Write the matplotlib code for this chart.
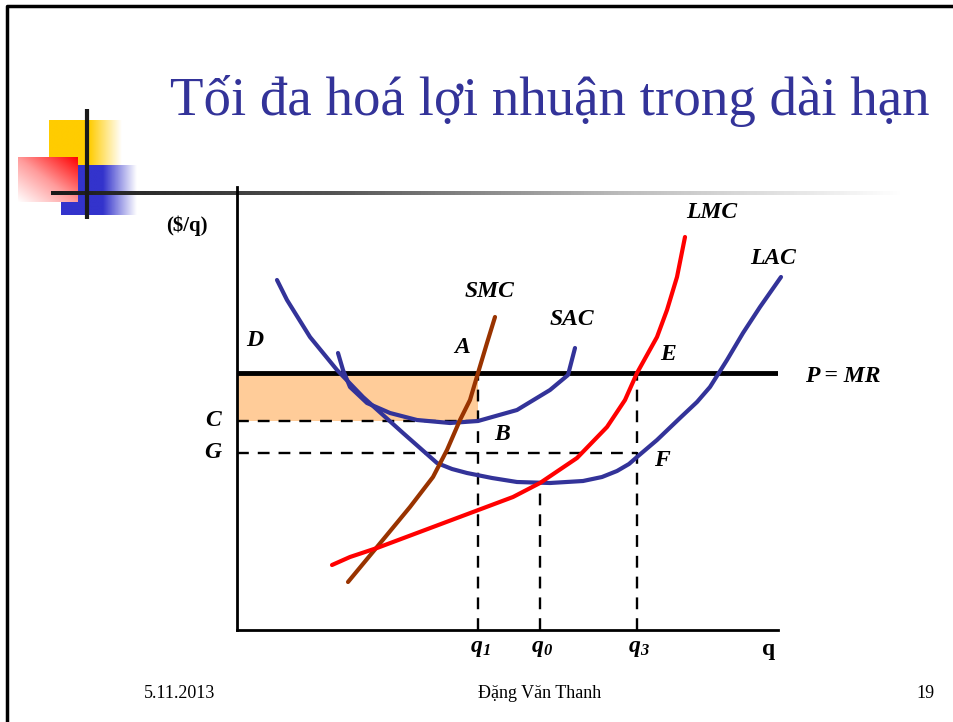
#!/usr/bin/env python3
import numpy as np
import matplotlib
matplotlib.use('Agg')
import matplotlib.pyplot as plt
from matplotlib.colors import LinearSegmentedColormap

# chart data (units: q along x, $/q along y, origin at the axes corner)
lac_q = [40, 50, 73, 100, 126, 166, 200, 215, 230, 255, 280, 313, 346, 365, 380, 392, 400, 420, 443, 460, 473, 490, 506, 523, 544]
lac_p = [350, 330, 293, 260, 233, 197, 167, 161, 157, 152, 148, 147, 149, 153, 159, 166, 173, 190, 212, 228, 243, 270, 297, 323, 353]

sac_q = [101, 106, 113, 130, 153, 180, 213, 241, 280, 313, 331, 338]
sac_p = [277, 260, 243, 227, 217, 210, 207, 209, 220, 240, 255, 282]

smc_q = [111, 140, 173, 196, 210, 223, 233, 241, 250, 258]
smc_p = [48, 83, 123, 153, 180, 210, 230, 257, 287, 313]

lmc_q = [95, 113, 140, 180, 236, 276, 303, 340, 370, 388, 400, 420, 430, 440, 448]
lmc_p = [65, 73, 82, 97, 118, 133, 147, 172, 203, 230, 257, 293, 320, 353, 393]

price = 257      # P = MR
c_level = 209    # C
g_level = 177    # G
q1, q0, q3 = 241, 303, 400

SERIF = 'Liberation Serif'
plt.rcParams['mathtext.fontset'] = 'custom'
plt.rcParams['mathtext.rm'] = SERIF
plt.rcParams['mathtext.it'] = SERIF + ':italic'
plt.rcParams['mathtext.bf'] = SERIF + ':bold'
plt.rcParams['mathtext.bfit'] = SERIF + ':bold:italic'

W, H = 954, 722
fig = plt.figure(figsize=(W / 100, H / 100), dpi=100)

# --- slide background (pixel coordinates) ---
bg = fig.add_axes([0, 0, 1, 1])
bg.set_axis_off()

def hgrad(ax, x0, x1, y0, y1, c0, c1, solid_frac=0.0, z=1):
    n = 256
    t = np.linspace(0, 1, n)
    t = np.clip((t - solid_frac) / (1 - solid_frac), 0, 1)
    cmap = LinearSegmentedColormap.from_list('g', [c0, c1])
    ax.imshow(t[None, :], cmap=cmap, extent=(x0, x1, y1, y0), origin='upper',
              aspect='auto', zorder=z, interpolation='bilinear')

# yellow and blue squares fading to white
hgrad(bg, 49, 122, 120, 165, '#FFCC00', '#FFFFFF', solid_frac=0.55, z=1)
hgrad(bg, 61, 137, 165, 215, '#3333CC', '#FFFFFF', solid_frac=0.55, z=2)
# red square: red at top-right, white at bottom-left
n = 128
xx, yy = np.meshgrid(np.linspace(0, 1, n), np.linspace(0, 1, n))
tt = np.clip((xx + (1 - yy)) / 2, 0, 1)
red_cmap = LinearSegmentedColormap.from_list('r', ['#FFFFFF', '#FF9999', '#FF0000'])
bg.imshow(tt, cmap=red_cmap, extent=(18, 78, 202, 157), origin='upper',
          aspect='auto', zorder=3, interpolation='bilinear')
# horizontal rule fading out to the right
rule_cmap = LinearSegmentedColormap.from_list('k', ['#1A1A1A', '#555555', '#BBBBBB', '#FFFFFF'])
bg.imshow(np.linspace(0, 1, 256)[None, :], cmap=rule_cmap, extent=(51, 905, 195, 191),
          origin='upper', aspect='auto', zorder=4, interpolation='bilinear')
bg.plot([87, 87], [109, 219], color='#1A1A1A', lw=3, zorder=5, solid_capstyle='butt')
# slide frame
bg.plot([7, 7, W], [H, 6, 6], color='black', lw=2.5, zorder=5)
bg.set_xlim(0, W)
bg.set_ylim(H, 0)

bg.text(550, 115, 'Tối đa hoá lợi nhuận trong dài hạn', fontsize=39.5, family=SERIF,
        color='#333399', ha='center', va='baseline')
bg.text(180, 693, '5.11.2013', fontsize=13, family=SERIF, ha='center', va='center')
bg.text(540, 693, 'Đặng Văn Thanh', fontsize=13, family=SERIF, ha='center', va='center')
bg.text(925, 693, '19', fontsize=13, family=SERIF, ha='center', va='center')

# --- chart ---
ax = fig.add_axes([237 / W, (H - 630) / H, (778 - 237) / W, (630 - 187) / H])
ax.patch.set_alpha(0)
ax.set_xlim(0, 541)
ax.set_ylim(0, 443)
for s in ['top', 'right']:
    ax.spines[s].set_visible(False)
for s in ['left', 'bottom']:
    ax.spines[s].set_linewidth(2)
ax.set_xticks([])
ax.set_yticks([])

ax.fill_between([0, q1], c_level, price, color='#FFCC99', lw=0, zorder=1)

dash = dict(color='black', lw=1.7, dashes=(5, 3.8), zorder=2)
ax.plot([0, q1], [c_level, c_level], **dash)
ax.plot([0, q3], [g_level, g_level], **dash)
ax.plot([q1, q1], [0, price], **dash)
ax.plot([q0, q0], [0, min(lac_p)], **dash)
ax.plot([q3, q3], [0, price], **dash)

ax.plot([0, 541], [price, price], color='black', lw=3.5, zorder=3, solid_capstyle='butt')

cur = dict(lw=3, solid_capstyle='round', solid_joinstyle='round', zorder=4, clip_on=False)
ax.plot(lac_q, lac_p, color='#333399', **cur)
ax.plot(sac_q, sac_p, color='#333399', **cur)
ax.plot(smc_q, smc_p, color='#993300', **cur)
ax.plot(lmc_q, lmc_p, color='#FF0000', **cur)

lab = dict(family=SERIF, weight='bold', style='italic', fontsize=17,
           ha='center', va='center', clip_on=False)
ax.text(18, 290, 'D', **lab)
ax.text(225, 283, 'A', **lab)
ax.text(265, 195, 'B', **lab)
ax.text(431, 276, 'E', **lab)
ax.text(425, 169, 'F', **lab)
ax.text(-24, c_level, 'C', **lab)
ax.text(-24, g_level, 'G', **lab)
ax.text(253, 339, 'SMC', **lab)
ax.text(335, 311, 'SAC', **lab)
ax.text(475, 418, 'LMC', **lab)
ax.text(536, 372, 'LAC', **lab)
ax.text(606, 254, 'P = MR', **lab)

for qv, sub in [(q1, '1'), (q0, '0'), (q3, '3')]:
    ax.text(qv + 2, -17, r'$\mathbfit{q}_{\mathbfit{%s}}$' % sub, fontsize=17,
            ha='center', va='center', clip_on=False)
ax.text(532, -20, 'q', family=SERIF, weight='bold', fontsize=17,
        ha='center', va='center', clip_on=False)
ax.text(-50, 404, '($/q)', family=SERIF, weight='bold', fontsize=15,
        ha='center', va='center', clip_on=False)

fig.savefig('out.png', dpi=100)
